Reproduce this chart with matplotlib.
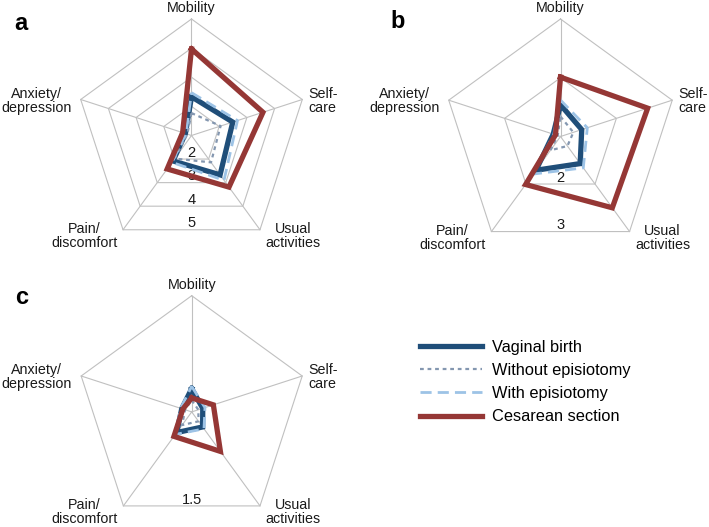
import numpy as np
import matplotlib.pyplot as plt

plt.rcParams['font.family'] = ['Liberation Sans', 'DejaVu Sans']

# Data
dimensions = ['Mobility', 'Self-\ncare', 'Usual\nactivities', 'Pain/\ndiscomfort', 'Anxiety/\ndepression']
series_names = ['Vaginal birth', 'Without episiotomy', 'With episiotomy', 'Cesarean section']

# panel a (scale 1-5)
a_vaginal = [2.33, 2.49, 2.67, 2.08, 1.22]
a_without = [1.77, 2.05, 2.14, 1.98, 1.15]
a_with = [2.47, 2.66, 2.90, 2.14, 1.20]
a_cesarean = [3.97, 3.58, 3.19, 2.42, 1.32]
a_ticks = [2, 3, 4, 5]

# panel b (scale 1-3)
b_vaginal = [1.54, 1.38, 1.57, 1.71, 1.13]
b_without = [1.34, 1.23, 1.20, 1.29, 1.05]
b_with = [1.62, 1.48, 1.66, 1.79, 1.12]
b_cesarean = [2.01, 2.56, 2.50, 2.01, 1.09]
b_ticks = [2, 3]

# panel c (scale 1-1.5)
c_vaginal = [1.10, 1.05, 1.08, 1.11, 1.045]
c_without = [1.05, 1.03, 1.05, 1.07, 1.03]
c_with = [1.11, 1.06, 1.09, 1.12, 1.05]
c_cesarean = [1.06, 1.098, 1.21, 1.13, 1.04]
c_ticks = [1.5]

colors = ['#1f4e79', '#8497b0', '#9dc3e6', '#953735']
widths = [3.8, 1.6, 2.0, 3.8]
styles = ['-', (0, (1.7, 1.7)), (0, (4, 2.2)), '-']

W, H = 709, 527
fig = plt.figure(figsize=(W / 100, H / 100), dpi=100)

angles = np.deg2rad(90 - 72 * np.arange(5))
label_pos = [(0, 1.06, 'center', 'baseline'),
             (1.0, 0.30, 'left', 'center'),
             (0.633, -0.86, 'left', 'center'),
             (-0.638, -0.86, 'right', 'center'),
             (-1.03, 0.30, 'right', 'center')]


def radar(cx, cy, R, vmin, ticks, data):
    L = 1.6
    ax = fig.add_axes([(cx - L * R) / W, 1 - (cy + L * R) / H, 2 * L * R / W, 2 * L * R / H])
    ax.set_xlim(-L, L)
    ax.set_ylim(-L, L)
    ax.axis('off')
    ax.patch.set_visible(False)
    vmax = ticks[-1]
    ca = np.append(np.cos(angles), np.cos(angles[0]))
    sa = np.append(np.sin(angles), np.sin(angles[0]))
    # grid
    for t in ticks:
        rn = (t - vmin) / (vmax - vmin)
        ax.plot(rn * ca, rn * sa, color='#c0c0c0', lw=0.8, zorder=1)
        ax.text(0, -rn * np.cos(np.deg2rad(36)) + 0.055, f'{t:g}', ha='center', va='center',
                fontsize=10.5, color='#1a1a1a')
    for a in angles:
        ax.plot([0, np.cos(a)], [0, np.sin(a)], color='#c0c0c0', lw=0.8, zorder=1)
    # series
    handles = []
    for i, vals in enumerate(data):
        rn = (np.append(vals, vals[0]) - vmin) / (vmax - vmin)
        h, = ax.plot(rn * ca, rn * sa, color=colors[i], lw=widths[i], linestyle=styles[i],
                     solid_joinstyle='miter', zorder=2 + i, label=series_names[i])
        handles.append(h)
    for name, (x, y, ha, va) in zip(dimensions, label_pos):
        ax.text(x, y, name, ha=ha, va=va, multialignment='center', fontsize=10.3,
                linespacing=1.0, color='#1a1a1a')
    return handles


handles = radar(191.5, 135.5, 116.5, 1, a_ticks, [a_vaginal, a_without, a_with, a_cesarean])
radar(560.5, 136.5, 117.5, 1, b_ticks, [b_vaginal, b_without, b_with, b_cesarean])
radar(191.7, 411.9, 116.2, 1, c_ticks, [c_vaginal, c_without, c_with, c_cesarean])

for letter, x, y in [('a', 21, 24), ('b', 397.5, 22), ('c', 21.5, 297)]:
    fig.text(x / W, 1 - y / H, letter, fontsize=17, fontweight='bold', ha='center', va='center')

fig.legend(handles=handles, loc='center left', bbox_to_anchor=(420 / W, 1 - 382 / H),
           frameon=False, fontsize=11.8, handlelength=3.8, handletextpad=0.6,
           labelspacing=0.5, borderpad=0, borderaxespad=0)

fig.savefig('out.png', dpi=100)
